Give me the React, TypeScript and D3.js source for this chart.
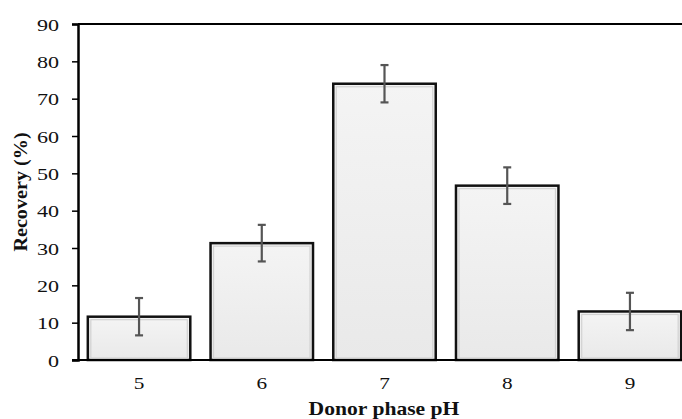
import React, { useEffect, useRef } from 'react';
import * as d3 from 'd3';

const phValues = ['5', '6', '7', '8', '9'];
const recovery = [11.6, 31.3, 74.0, 46.7, 13.0];
const errors = [5.0, 4.9, 5.0, 4.9, 5.0];
const yTicks = [0, 10, 20, 30, 40, 50, 60, 70, 80, 90];

const W = 682, H = 419;
const M = { top: 24, right: -9, bottom: 59, left: 78 };
const FONT = '"Liberation Serif", "Times New Roman", serif';

export default function App() {
  const ref = useRef<SVGSVGElement>(null);
  useEffect(() => {
    const svg = d3.select(ref.current);
    svg.selectAll('*').remove();
    const w = W - M.left - M.right, h = H - M.top - M.bottom;
    const x = d3.scaleBand().domain(phValues).range([M.left, M.left + w]).paddingInner(0.165).paddingOuter(0.08);
    const y = d3.scaleLinear().domain([0, 90]).range([M.top + h, M.top]);

    const defs = svg.append('defs');
    const grad = defs.append('linearGradient').attr('id', 'barfill').attr('x1', 0).attr('x2', 0).attr('y1', 0).attr('y2', 1);
    grad.append('stop').attr('offset', '0%').attr('stop-color', '#f4f4f4');
    grad.append('stop').attr('offset', '100%').attr('stop-color', '#e9e9e9');

    // bars
    const data = phValues.map((p, i) => ({ p, v: recovery[i], e: errors[i] }));
    svg.append('g').selectAll('rect').data(data).join('rect')
      .attr('x', d => x(d.p)!)
      .attr('y', d => y(d.v))
      .attr('width', x.bandwidth())
      .attr('height', d => y(0) - y(d.v))
      .attr('fill', 'url(#barfill)')
      .attr('stroke', '#111').attr('stroke-width', 2.5);
    // inner bevel
    svg.append('g').selectAll('rect').data(data).join('rect')
      .attr('x', d => x(d.p)! + 3)
      .attr('y', d => y(d.v) + 3)
      .attr('width', x.bandwidth() - 6)
      .attr('height', d => y(0) - y(d.v) - 5)
      .attr('fill', 'none')
      .attr('stroke', '#d2d2d2').attr('stroke-width', 1.2);

    // error bars
    const eb = svg.append('g').attr('stroke', '#555').attr('stroke-width', 2.2);
    data.forEach(d => {
      const cx = x(d.p)! + x.bandwidth() / 2;
      eb.append('line').attr('x1', cx).attr('x2', cx).attr('y1', y(d.v + d.e)).attr('y2', y(d.v - d.e));
      eb.append('line').attr('x1', cx - 4).attr('x2', cx + 4).attr('y1', y(d.v + d.e)).attr('y2', y(d.v + d.e));
      eb.append('line').attr('x1', cx - 4).attr('x2', cx + 4).attr('y1', y(d.v - d.e)).attr('y2', y(d.v - d.e));
    });

    // frame lines
    svg.append('line').attr('x1', M.left).attr('x2', W).attr('y1', y(90)).attr('y2', y(90)).attr('stroke', '#000').attr('stroke-width', 2);
    svg.append('line').attr('x1', M.left - 6).attr('x2', W).attr('y1', y(0)).attr('y2', y(0)).attr('stroke', '#000').attr('stroke-width', 2);

    // y axis
    const yAxis = svg.append('g').attr('transform', `translate(${M.left},0)`)
      .call(d3.axisLeft(y).tickValues(yTicks).tickSize(6).tickPadding(12));
    yAxis.select('.domain').attr('stroke', '#000').attr('stroke-width', 2.5);
    yAxis.selectAll('.tick line').attr('stroke', '#000').attr('stroke-width', 1.5);
    yAxis.selectAll('.tick text').attr('font-family', FONT).attr('font-size', 17).attr('fill', '#111')
      .attr('dy', '0.36em').attr('x', 0)
      .attr('transform', 'translate(-19,0) scale(1.3,1)');

    // x tick labels
    svg.append('g').selectAll('text').data(phValues).join('text')
      .attr('transform', d => `translate(${x(d)! + x.bandwidth() / 2},389) scale(1.25,1)`)
      .attr('text-anchor', 'middle')
      .attr('font-family', FONT).attr('font-size', 17).attr('fill', '#111')
      .text(d => d);

    // titles
    svg.append('text')
      .attr('transform', `translate(${(M.left + W) / 2 + 4},415) scale(1.2,1)`)
      .attr('text-anchor', 'middle')
      .attr('font-family', FONT).attr('font-size', 18).attr('font-weight', 'bold').attr('fill', '#111')
      .text('Donor phase pH');
    svg.append('text')
      .attr('transform', `translate(27,192) rotate(-90) scale(1.12,1)`)
      .attr('text-anchor', 'middle')
      .attr('font-family', FONT).attr('font-size', 18).attr('font-weight', 'bold').attr('fill', '#111')
      .text('Recovery (%)');
  }, []);
  return (
    <svg ref={ref} width={W} height={H} style={{ position: 'absolute', left: 0, top: 0, background: '#fff' }} />
  );
}
